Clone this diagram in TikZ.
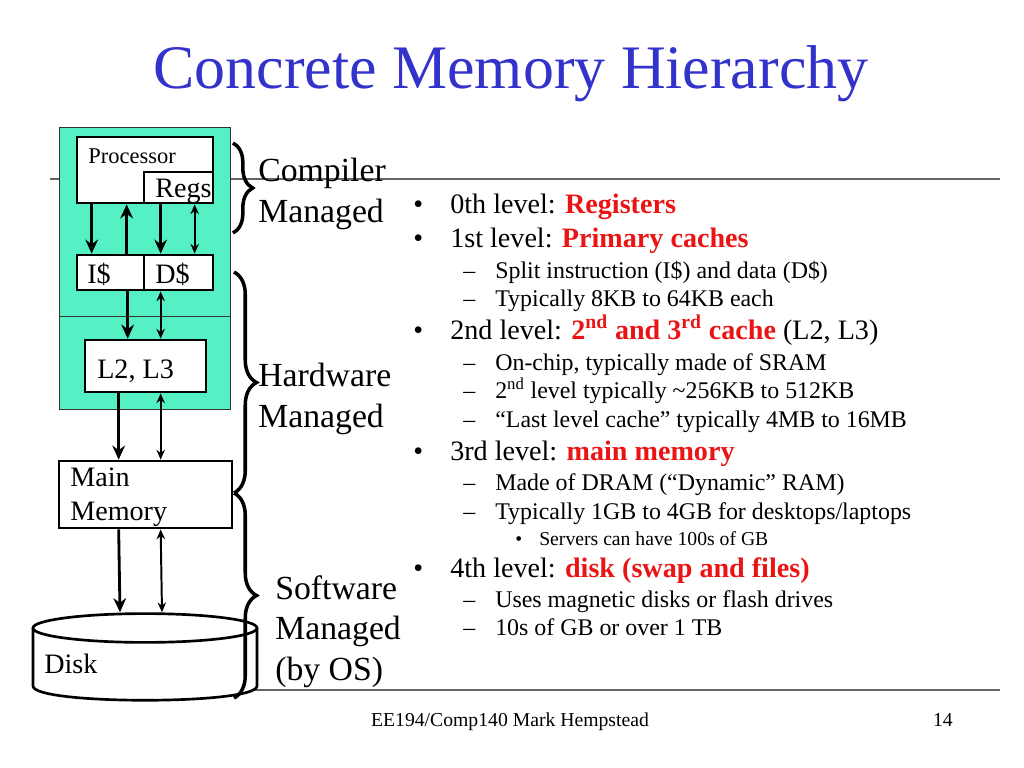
\documentclass[tikz,border=0pt]{standalone}
\usepackage{fontspec}
\setmainfont{Liberation Serif}
\usetikzlibrary{arrows.meta,
	calc,
	decorations.pathreplacing,
	fit,
	shapes.geometric}
\definecolor{titleblue}{RGB}{51,51,204}
\definecolor{chipgreen}{RGB}{85,240,196}
\definecolor{hotred}{RGB}{235,20,20}
\definecolor{rulegray}{RGB}{100,100,100}
\newcommand{\redbf}[1]{\textcolor{hotred}{\textbf{#1}}}

\begin{document}
\begin{tikzpicture}[x=0.025cm,y=-0.025cm,
	box/.style={draw, fill=white, line width=1.9pt, inner sep=0pt},
	lbl/.style={anchor=base west, inner sep=0pt, font=\fontsize{20pt}{23.5pt}\selectfont},
	down/.style={line width=2pt, -{Stealth[length=10pt,width=9pt]}},
	both/.style={line width=1.4pt, {Stealth[length=7pt,width=6pt]}-{Stealth[length=7pt,width=6pt]}},
	brc/.style={decorate, decoration={brace, amplitude=#1}, line width=2.5pt},
	side/.style={anchor=base west, inner sep=0pt, align=left, font=\fontsize{24pt}{28.5pt}\selectfont},
	dot/.style={anchor=base west, inner sep=0pt},
	lvlA/.style={anchor=base west, inner sep=0pt, font=\fontsize{20pt}{24pt}\selectfont},
	lvlB/.style={anchor=base west, inner sep=0pt, font=\fontsize{17pt}{20pt}\selectfont},
	lvlC/.style={anchor=base west, inner sep=0pt, font=\fontsize{14pt}{17pt}\selectfont}]

\fill[white] (0,0) rectangle (1024,768);
\useasboundingbox (0,0) rectangle (1024,768);

% slide rules and title
\draw[rulegray, line width=1pt] (50,179) -- (1000,179);
\draw[rulegray, line width=1pt] (50,690) -- (1000,690);
\node[anchor=base, inner sep=0pt, text=titleblue, font=\fontsize{44pt}{50pt}\selectfont] (title) at (511,89) {Concrete Memory Hierarchy};

% chip
\fill[chipgreen, draw=black!80, line width=0.6pt] (59,127) rectangle (230,409);
\draw[black!80, line width=0.6pt] (59,316) -- (230,316);

\node[box, fit={(77,137) (213,203)}] (proc) {};
\node[box, fit={(144,172) (213,203)}] (regs) {};
\node[box, fit={(77,255) (144,290)}] (icache) {};
\node[box, fit={(144,255) (213,290)}] (dcache) {};
\node[box, fit={(85,340) (206,392)}] (l2) {};
\node[box, fit={(59,461) (232,528)}] (mem) {};

\node[lbl, font=\fontsize{16pt}{19pt}\selectfont] (proclbl) at (88,163) {Processor};
\node[lbl] (regslbl) at (155,197) {Regs};
\node[lbl] (ilbl) at (87,283) {I\$};
\node[lbl] (dlbl) at (155,283) {D\$};
\node[lbl] (l2lbl) at (97,378) {L2, L3};
% base of a two-line node is its last line
\node[lbl, align=left] (memlbl) at (70,520) {Main\\Memory};

% disk
\draw[line width=1.9pt, fill=white] (33,628) -- (33,686) .. controls (33,705) and (257,705) .. (257,686) -- (257,628);
\node[draw, fill=white, ellipse, line width=1.9pt, inner sep=0pt, minimum width=5.6cm, minimum height=0.72cm] (disk) at (145,628) {};
\node[lbl] (disklbl) at (44,673) {Disk};

% connectors
\draw[down] ($(proc.south west)+(16,0)$) -- ($(icache.north west)+(16,0)$);
\draw[down] ($(icache.north west)+(51,0)$) -- ($(proc.south west)+(51,0)$);
\draw[down] ($(regs.south west)+(18,0)$) -- ($(dcache.north west)+(18,0)$);
\draw[both] ($(regs.south west)+(52,0)$) -- ($(dcache.north west)+(52,0)$);

\draw[down] ($(icache.south west)+(52,0)$) -- ($(l2.north west)+(44,0)$);
\draw[both] ($(dcache.south west)+(18,0)$) -- ($(l2.north west)+(77,0)$);

\draw[down] ($(l2.south west)+(35,0)$) -- ($(mem.north west)+(61,0)$);
\draw[both] ($(l2.south west)+(77,0)$) -- ($(mem.north west)+(103,0)$);

\draw[down] ($(mem.south west)+(61,0)$) -- ($(disk.north)+(-25,0)$);
\draw[both] ($(mem.south west)+(103,0)$) -- ($(disk.north)+(17,0)$);

% braces
\draw[brc=14pt] (233,143) -- (233,233);
\draw[brc=16pt] (234,272) -- (234,493);
\draw[brc=16pt] (234,493) -- (234,698);
\node[side] (compiler) at (258,222) {Compiler\\Managed};
\node[side] (hardware) at (258,427) {Hardware\\Managed};
\node[side] (software) at (275,680) {Software\\Managed\\(by OS)};

% bullets
\foreach \y/\txt [count=\i] in {213/{0th level: \redbf{Registers}},
	247/{1st level: \redbf{Primary caches}},
	339/{2nd level: \redbf{2\textsuperscript{nd} and 3\textsuperscript{rd} cache} (L2, L3)},
	460/{3rd level: \redbf{main memory}},
	577/{4th level: \redbf{disk (swap and files)}}}{
	\node[dot, font=\fontsize{20pt}{24pt}\selectfont] (dotA\i) at (413,\y) {\textbullet};
	\node[lvlA] (lvlA\i) at (450,\y) {\txt};
}
\foreach \y/\txt [count=\i] in {278/{Split instruction (I\$) and data (D\$)},
	306/{Typically 8KB to 64KB each},
	370/{On-chip, typically made of SRAM},
	398/{2\textsuperscript{nd} level typically \textasciitilde256KB to 512KB},
	427/{“Last level cache” typically 4MB to 16MB},
	490/{Made of DRAM (“Dynamic” RAM)},
	519/{Typically 1GB to 4GB for desktops/laptops},
	607/{Uses magnetic disks or flash drives},
	635/{10s of GB or over 1 TB}}{
	\node[dot, font=\fontsize{17pt}{20pt}\selectfont] (dotB\i) at (463,\y) {–};
	\node[lvlB] (lvlB\i) at (495,\y) {\txt};
}
\node[dot, font=\fontsize{14pt}{17pt}\selectfont] (dotC1) at (515,545) {\textbullet};
\node[lvlC] (lvlC1) at (539,545) {Servers can have 100s of GB};

% footer
\node[anchor=base, inner sep=0pt, font=\fontsize{14pt}{17pt}\selectfont] (foot) at (510,726) {EE194/Comp140 Mark Hempstead};
\node[anchor=base east, inner sep=0pt, font=\fontsize{14pt}{17pt}\selectfont] (page) at (953,726) {14};
\end{tikzpicture}
\end{document}
